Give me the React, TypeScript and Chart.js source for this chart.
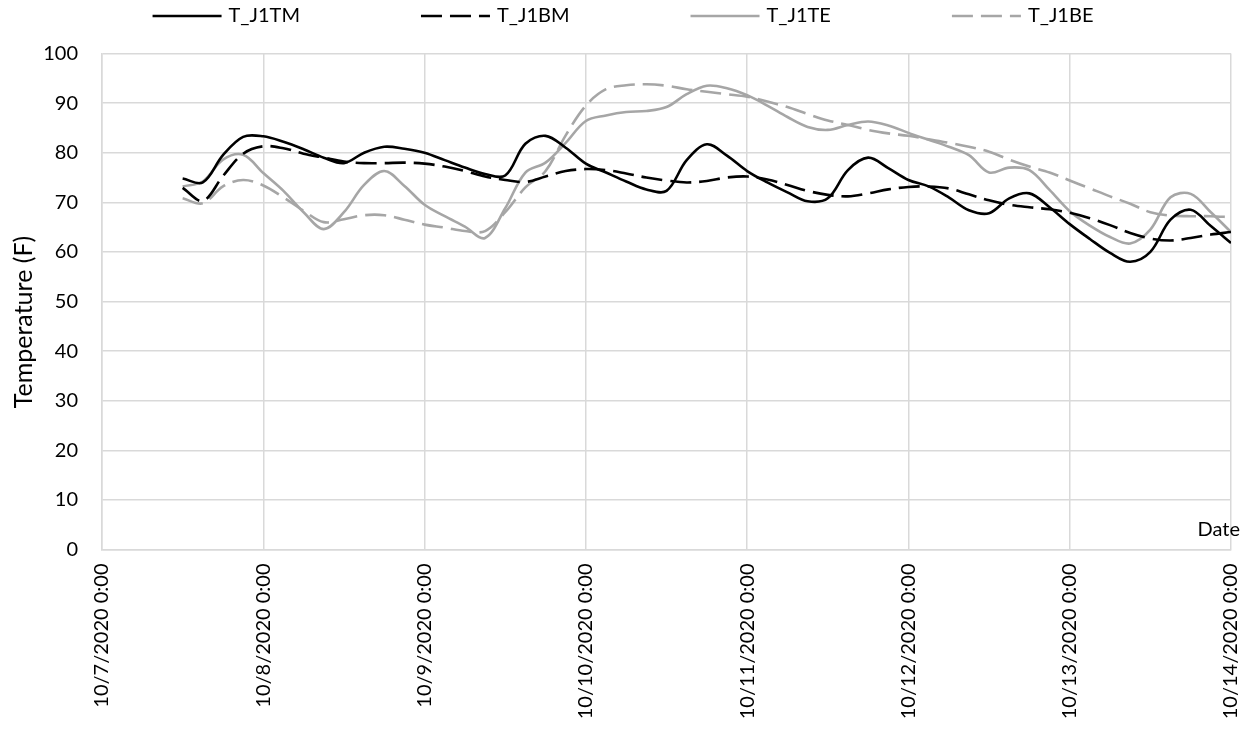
import React, { useEffect, useRef } from 'react';
import { Chart, registerables } from 'chart.js';

Chart.register(...registerables);

// Sample times: hours since 10/7/2020 0:00
const hours = [
  12, 15, 18, 21, 24, 27, 30, 33, 36, 39, 42, 45,
  48, 51, 54, 57, 60, 63, 66, 69, 72, 75, 78, 81, 84, 87, 90, 93,
  96, 99, 102, 105, 108, 111, 114, 117, 120, 123, 126, 129, 132, 135, 138, 141,
  144, 147, 150, 153, 156, 159, 162, 165, 168,
];

const dateTickLabels = [
  '10/7/2020 0:00', '10/8/2020 0:00', '10/9/2020 0:00', '10/10/2020 0:00',
  '10/11/2020 0:00', '10/12/2020 0:00', '10/13/2020 0:00', '10/14/2020 0:00',
];

const seriesNames = ['T_J1TM', 'T_J1BM', 'T_J1TE', 'T_J1BE'];

const tJ1TM = [
  74.8, 74.0, 79.5, 83.2, 83.3, 82.2, 80.7, 79.0, 77.9, 80.0, 81.2, 80.8,
  80.0, 78.5, 77.0, 75.7, 75.4, 81.8, 83.4, 81.0, 77.8, 76.0, 74.2, 72.6, 72.3, 78.5, 81.7,
  79.4, 76.3, 74.0, 72.0, 70.2, 70.8, 76.5, 79.0, 76.9, 74.5, 73.2, 71.0, 68.4, 67.8, 70.8, 71.8,
  69.0, 65.6, 62.6, 59.8, 58.0, 60.0, 66.5, 68.5, 65.2, 61.8,
];

const tJ1BM = [
  72.9, 70.3, 75.3, 79.8, 81.3, 80.9, 79.8, 79.0, 78.2, 77.9, 77.9, 78.0,
  77.8, 77.2, 76.3, 75.2, 74.5, 74.1, 75.2, 76.3, 76.7, 76.5, 75.8, 75.0, 74.4, 74.0, 74.3,
  75.0, 75.2, 74.6, 73.5, 72.3, 71.5, 71.2, 71.8, 72.6, 73.1, 73.2, 72.8, 71.6, 70.4, 69.5, 69.0,
  68.6, 67.9, 66.8, 65.4, 63.8, 62.7, 62.3, 62.8, 63.5, 64.0,
];

const tJ1TE = [
  73.2, 74.2, 78.6, 79.6, 75.9, 72.3, 68.0, 64.6, 68.0, 73.5, 76.3, 73.3,
  69.5, 67.2, 65.1, 62.8, 68.8, 76.0, 78.0, 82.0, 86.4, 87.5, 88.2, 88.4, 89.2, 91.8, 93.5,
  93.0, 91.6, 89.5, 87.2, 85.2, 84.6, 85.6, 86.3, 85.5, 84.0, 82.6, 81.2, 79.5, 76.0, 77.0, 76.5,
  72.5, 68.2, 65.3, 63.0, 61.7, 64.5, 71.0, 71.7, 68.0, 64.0,
];

const tJ1BE = [
  70.8, 69.8, 73.2, 74.5, 73.4, 71.0, 68.3, 66.0, 66.6, 67.4, 67.4, 66.5,
  65.5, 64.9, 64.2, 64.2, 68.0, 73.0, 76.3, 83.5, 89.5, 92.8, 93.6, 93.8, 93.5, 92.8, 92.3,
  91.8, 91.3, 90.3, 89.2, 87.8, 86.5, 85.6, 84.6, 83.9, 83.4, 82.7, 82.0, 81.2, 80.2, 78.6, 77.2,
  76.0, 74.4, 72.8, 71.2, 69.7, 68.0, 67.3, 67.2, 67.2, 67.0,
];

const yTitle = 'Temperature (F)';
const xTitle = 'Date';

const FONT = 'Lato, "Liberation Sans", sans-serif';
const TEXT = '#000000';
const GRID = '#d9d9d9';
const BLACK = '#000000';
const GRAY = '#a6a6a6';
const DASH = [21, 8];

const toPoints = (vals: number[]) => vals.map((v, i) => ({ x: hours[i], y: v }));

const overlayPlugin = {
  id: 'overlay',
  afterDraw(chart: any) {
    const { ctx, chartArea } = chart;
    ctx.save();
    // legend
    ctx.font = `20px ${FONT}`;
    const items = chart.data.datasets.map((ds: any) => ({
      label: ds.label,
      color: ds.borderColor,
      dash: ds.borderDash || [],
      width: ds.borderWidth,
    }));
    const lineLen = 69;
    const gap = 7;
    const pad = 121;
    const widths = items.map((it: any) => lineLen + gap + ctx.measureText(it.label).width);
    const total = widths.reduce((a: number, b: number) => a + b, 0) + pad * (items.length - 1);
    let x = (chart.width - total) / 2 - 2;
    const y = 16;
    items.forEach((it: any, i: number) => {
      ctx.beginPath();
      ctx.setLineDash(it.dash);
      ctx.strokeStyle = it.color;
      ctx.lineWidth = it.width;
      ctx.moveTo(x, y);
      ctx.lineTo(x + lineLen, y);
      ctx.stroke();
      ctx.setLineDash([]);
      ctx.fillStyle = TEXT;
      ctx.textAlign = 'left';
      ctx.textBaseline = 'middle';
      ctx.fillText(it.label, x + lineLen + gap, y);
      x += widths[i] + pad;
    });
    // x axis title (inside plot, bottom right)
    ctx.textAlign = 'right';
    ctx.textBaseline = 'middle';
    ctx.fillStyle = TEXT;
    ctx.fillText(xTitle, chartArea.right + 9, chartArea.bottom - 20);
    // y axis title
    ctx.save();
    ctx.translate(24, 322);
    ctx.rotate(-Math.PI / 2);
    ctx.font = `25px ${FONT}`;
    ctx.textAlign = 'center';
    ctx.textBaseline = 'middle';
    ctx.fillText(yTitle, 0, 0);
    ctx.restore();
    ctx.restore();
  },
};

export default function App() {
  const canvasRef = useRef<HTMLCanvasElement | null>(null);

  useEffect(() => {
    if (!canvasRef.current) return;
    const mk = (i: number, vals: number[], color: string, dashed: boolean) => ({
      label: seriesNames[i],
      data: toPoints(vals),
      borderColor: color,
      backgroundColor: color,
      borderWidth: 2.6,
      borderDash: dashed ? DASH : [],
      pointRadius: 0,
      pointHoverRadius: 0,
      tension: 0.35,
      fill: false,
    });
    const chart = new Chart(canvasRef.current, {
      type: 'line',
      data: {
        datasets: [
          mk(0, tJ1TM, BLACK, false),
          mk(1, tJ1BM, BLACK, true),
          mk(2, tJ1TE, GRAY, false),
          mk(3, tJ1BE, GRAY, true),
        ],
      },
      options: {
        animation: false,
        responsive: true,
        maintainAspectRatio: false,
        layout: { padding: { top: 53.5, right: 19, left: 0, bottom: 0 } },
        plugins: {
          legend: { display: false },
          tooltip: { enabled: false },
        },
        scales: {
          x: {
            type: 'linear',
            min: 0,
            max: 168,
            afterFit: (s: any) => {
              s.height = 183.5;
              s.paddingLeft = 0;
              s.paddingRight = 0;
            },
            grid: { color: GRID, lineWidth: 1.5, drawTicks: false },
            border: { display: true, color: GRID, width: 1.5 },
            ticks: {
              stepSize: 24,
              autoSkip: false,
              minRotation: 90,
              maxRotation: 90,
              padding: 14,
              color: TEXT,
              font: { family: FONT, size: 20 },
              callback: (v: any) => dateTickLabels[Math.round(Number(v) / 24)] ?? '',
            },
          },
          y: {
            min: 0,
            max: 100,
            afterFit: (s: any) => {
              s.width = 102;
              s.paddingTop = 0;
              s.paddingBottom = 0;
            },
            grid: { color: GRID, lineWidth: 1.5, drawTicks: false },
            border: { display: true, color: GRID, width: 1.5 },
            ticks: {
              stepSize: 10,
              padding: 24,
              color: TEXT,
              font: { family: FONT, size: 20 },
            },
          },
        },
      },
      plugins: [overlayPlugin],
    });
    return () => chart.destroy();
  }, []);

  return (
    <div style={{ position: 'absolute', left: 0, top: 0, width: 1250, height: 733, background: '#fff' }}>
      <canvas ref={canvasRef} />
    </div>
  );
}
